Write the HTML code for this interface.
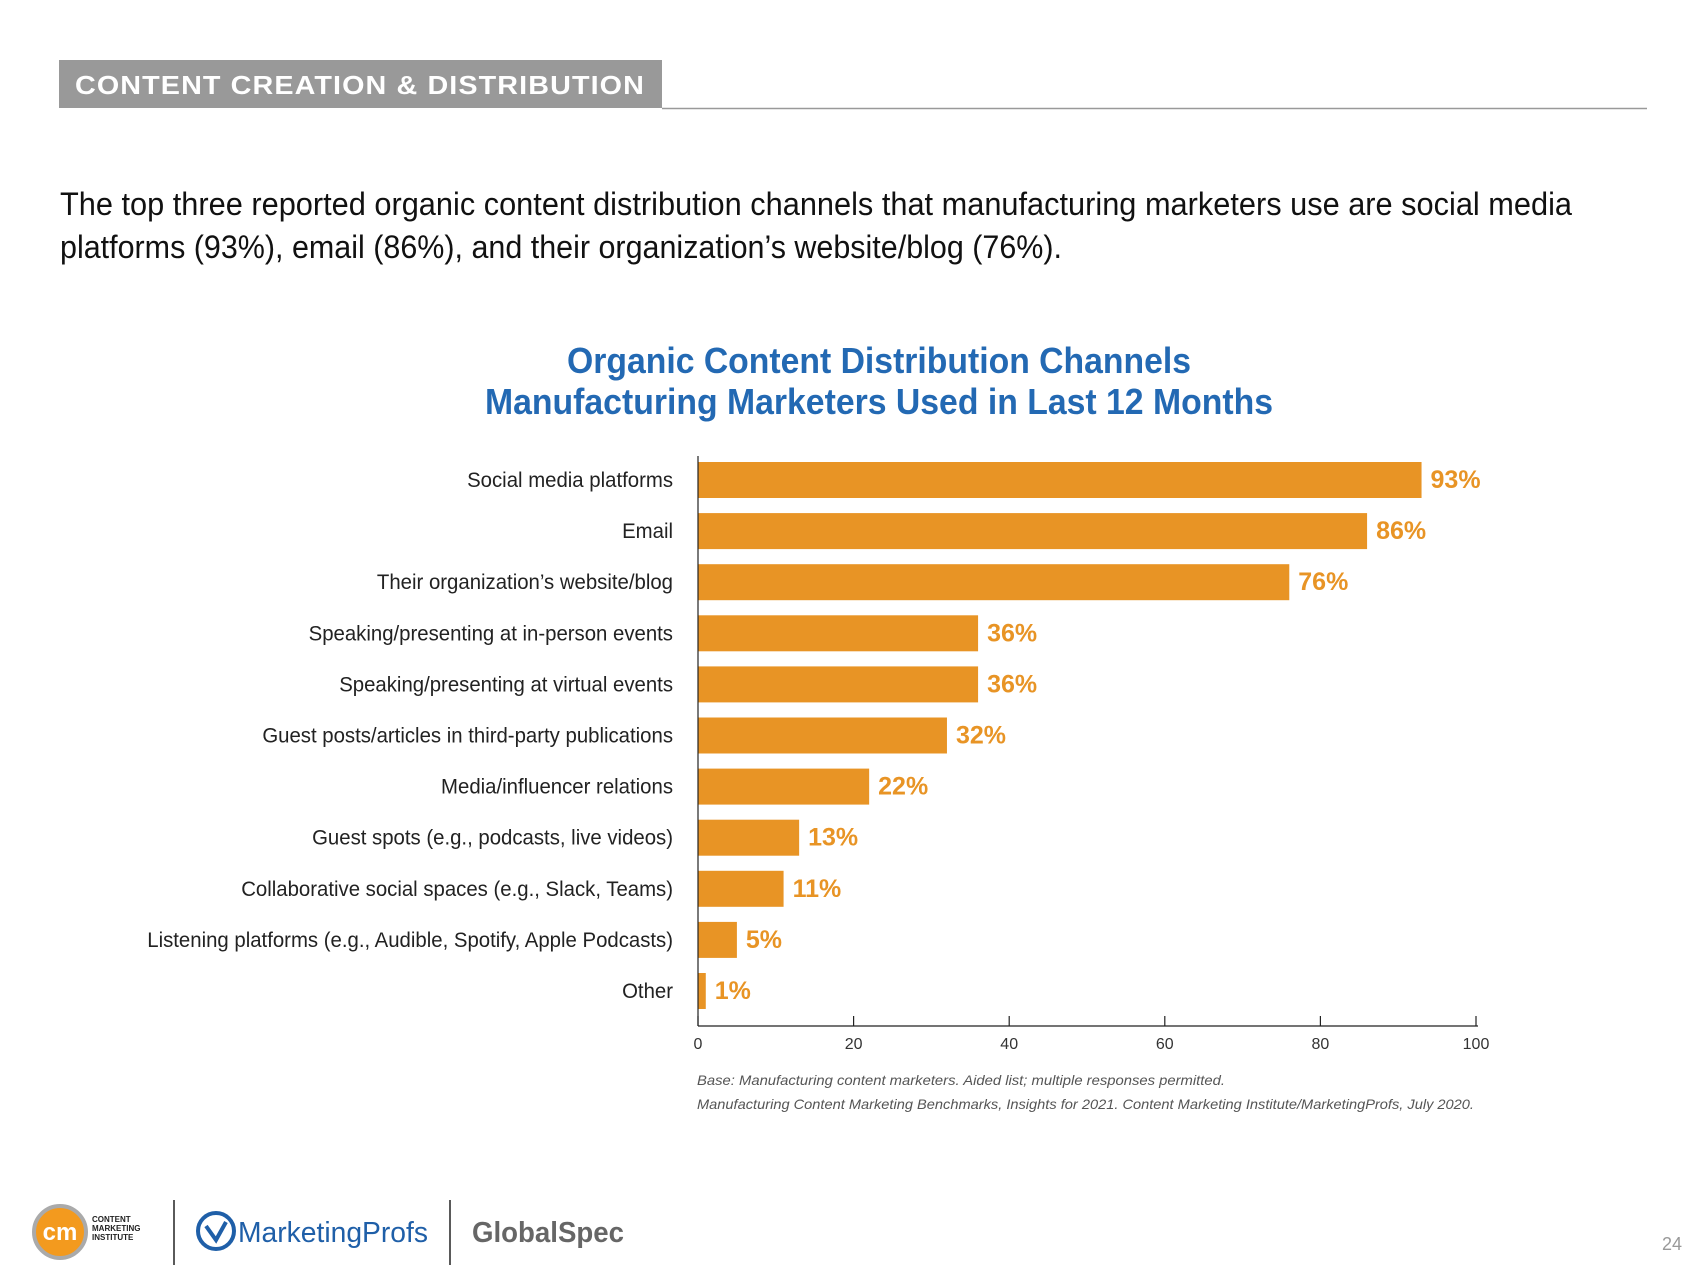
<!DOCTYPE html>
<html><head><meta charset="utf-8"><style>
html,body{margin:0;padding:0;background:#fff;}
svg{display:block;font-family:"Liberation Sans",sans-serif;}
</style></head><body>
<svg id="page" width="1707" height="1280" viewBox="0 0 1707 1280">
  <rect x="59" y="60" width="603" height="48" fill="#999"/>
  <text x="75" y="94" font-size="26" font-weight="bold" fill="#fff" letter-spacing="1" textLength="570" lengthAdjust="spacingAndGlyphs">CONTENT CREATION &amp; DISTRIBUTION</text>
  <line x1="662" y1="108.5" x2="1647" y2="108.5" stroke="#999" stroke-width="1.5"/>
  <text x="60" y="215" font-size="32" fill="#111" textLength="1512" lengthAdjust="spacingAndGlyphs">The top three reported organic content distribution channels that manufacturing marketers use are social media</text>
  <text x="60" y="258" font-size="32" fill="#111" textLength="1002" lengthAdjust="spacingAndGlyphs">platforms (93%), email (86%), and their organization’s website/blog (76%).</text>
  <text x="879" y="373" font-size="36" font-weight="bold" fill="#2369B3" text-anchor="middle" textLength="624" lengthAdjust="spacingAndGlyphs">Organic Content Distribution Channels</text>
  <text x="879" y="414" font-size="36" font-weight="bold" fill="#2369B3" text-anchor="middle" textLength="788" lengthAdjust="spacingAndGlyphs">Manufacturing Marketers Used in Last 12 Months</text>
  <g id="chart"></g>
  <text x="697" y="1085" font-size="14" font-style="italic" fill="#555" textLength="528" lengthAdjust="spacingAndGlyphs">Base: Manufacturing content marketers. Aided list; multiple responses permitted.</text>
  <text x="697" y="1109" font-size="14" font-style="italic" fill="#555" textLength="777" lengthAdjust="spacingAndGlyphs">Manufacturing Content Marketing Benchmarks, Insights for 2021. Content Marketing Institute/MarketingProfs, July 2020.</text>
  <g>
    <circle cx="60" cy="1232" r="26" fill="#F39A1E" stroke="#aaa" stroke-width="4"/>
    <text x="60" y="1240" font-size="24" font-weight="bold" fill="#fff" text-anchor="middle">cm</text>
    <text x="92" y="1222" font-size="8" font-weight="bold" fill="#222">CONTENT</text>
    <text x="92" y="1231" font-size="8" font-weight="bold" fill="#222">MARKETING</text>
    <text x="92" y="1240" font-size="8" font-weight="bold" fill="#222">INSTITUTE</text>
  </g>
  <line x1="174" y1="1200" x2="174" y2="1265" stroke="#222" stroke-width="1.5"/>
  <g>
    <circle cx="216" cy="1231" r="18" fill="#fff" stroke="#1f5fa8" stroke-width="4"/>
    <path d="M206 1226 L216 1240 L226 1222" stroke="#1f5fa8" stroke-width="4" fill="none"/>
    <text x="238" y="1242" font-size="29" fill="#1f5fa8" textLength="190" lengthAdjust="spacingAndGlyphs">MarketingProfs</text>
  </g>
  <line x1="450" y1="1200" x2="450" y2="1265" stroke="#222" stroke-width="1.5"/>
  <text x="472" y="1242" font-size="29" font-weight="bold" fill="#666" textLength="152" lengthAdjust="spacingAndGlyphs">GlobalSpec</text>
  <text x="1672" y="1250" font-size="18" fill="#999" text-anchor="middle">24</text>
</svg>
<script>
const categories = ["Social media platforms","Email","Their organization’s website/blog","Speaking/presenting at in-person events","Speaking/presenting at virtual events","Guest posts/articles in third-party publications","Media/influencer relations","Guest spots (e.g., podcasts, live videos)","Collaborative social spaces (e.g., Slack, Teams)","Listening platforms (e.g., Audible, Spotify, Apple Podcasts)","Other"];
const values = [93,86,76,36,36,32,22,13,11,5,1];
const valueLabels = ["93%","86%","76%","36%","36%","32%","22%","13%","11%","5%","1%"];
const tickValues = [0,20,40,60,80,100];
const tickLabels = ["0","20","40","60","80","100"];

const NS = "http://www.w3.org/2000/svg";
const chart = document.getElementById("chart");
const x0 = 698, unit = 7.78, yTop = 456, yBot = 1026, firstRow = 480, rowStep = 51.1, barH = 36;
function xs(v){ return x0 + v*unit; }
function yc(i){ return firstRow + rowStep*i; }
function mk(tag, attrs, parent){ const e=document.createElementNS(NS,tag); for(const k in attrs) e.setAttribute(k,attrs[k]); (parent||chart).appendChild(e); return e; }

categories.forEach((c,i)=>{
  const cy = yc(i);
  const bar = mk("rect",{x:x0,y:cy-barH/2,width:xs(values[i])-x0,height:barH,fill:"#E89425"});
  
  
  const g = mk("g",{transform:`translate(673 ${cy+7}) scale(0.97 1)`});
  const lab = mk("text",{x:0,y:0,"font-size":21,fill:"#222","text-anchor":"end"},g);
  lab.textContent = c;
  
  
  const vl = mk("text",{x:xs(values[i])+9,y:cy+8,"font-size":25,"font-weight":"bold",fill:"#E89425"});
  vl.textContent = valueLabels[i];
  
  
});
const ya = mk("line",{x1:x0,y1:yTop,x2:x0,y2:yBot,stroke:"#222","stroke-width":1.2});


const xa = mk("line",{x1:x0,y1:yBot,x2:xs(100)+2,y2:yBot,stroke:"#222","stroke-width":1.2});


tickValues.forEach((t,i)=>{
  const tx = xs(t);
  const tk = mk("line",{x1:tx,y1:yBot-10,x2:tx,y2:yBot,stroke:"#222","stroke-width":1.2});
  
  
  const tl = mk("text",{x:tx,y:yBot+23,"font-size":16,fill:"#333","text-anchor":"middle"});
  tl.textContent = tickLabels[i];
  
  
});
</script>
</body></html>
